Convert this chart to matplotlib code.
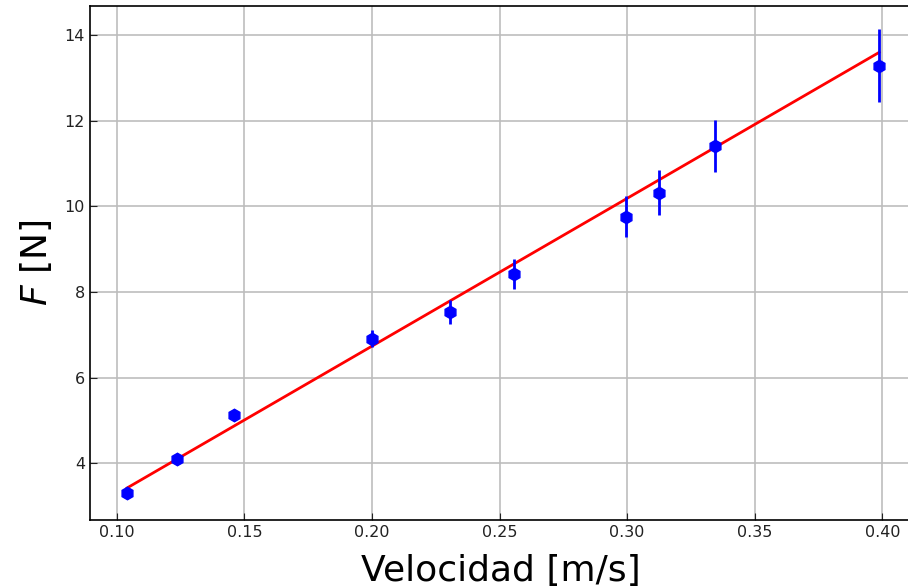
import matplotlib.pyplot as plt

# datos medidos
velocidad = [0.104, 0.1235, 0.146, 0.200, 0.2305, 0.2555, 0.2996, 0.3125, 0.3345, 0.3988]
fuerza = [3.30, 4.09, 5.13, 6.91, 7.54, 8.42, 9.76, 10.32, 11.41, 13.29]
err_f = [0.08, 0.08, 0.10, 0.20, 0.28, 0.35, 0.48, 0.52, 0.60, 0.86]

# recta de ajuste (extremos)
v_ajuste = [0.104, 0.3988]
f_ajuste = [3.42, 13.60]

fig = plt.figure(figsize=(9.08, 5.88), dpi=100)
ax = fig.add_axes([0.099, 0.1156, 0.905, 0.874])

ax.plot(v_ajuste, f_ajuste, c='red', lw=2, zorder=3)
ax.errorbar(velocidad, fuerza, yerr=err_f, fmt='h', color='blue',
            ms=9, elinewidth=2, capsize=0, zorder=4)

ax.set_xlim(0.0894, 0.4115)
ax.set_ylim(2.67, 14.68)
ax.set_xticks([0.10, 0.15, 0.20, 0.25, 0.30, 0.35, 0.40])
ax.set_yticks([4, 6, 8, 10, 12, 14])
ax.grid(True, color='#bdbdbd', lw=1.2)
ax.set_axisbelow(True)
ax.tick_params(direction='in', labelsize=11.5, length=5, colors='#222222')
ax.spines['right'].set_visible(False)
for s in ['left', 'top', 'bottom']:
    ax.spines[s].set_linewidth(1.2)

ax.set_xlabel('Velocidad [m/s]', fontsize=26, labelpad=10)
ax.set_ylabel('$F$ [N]', fontsize=26, labelpad=8)

fig.savefig('out.png')
